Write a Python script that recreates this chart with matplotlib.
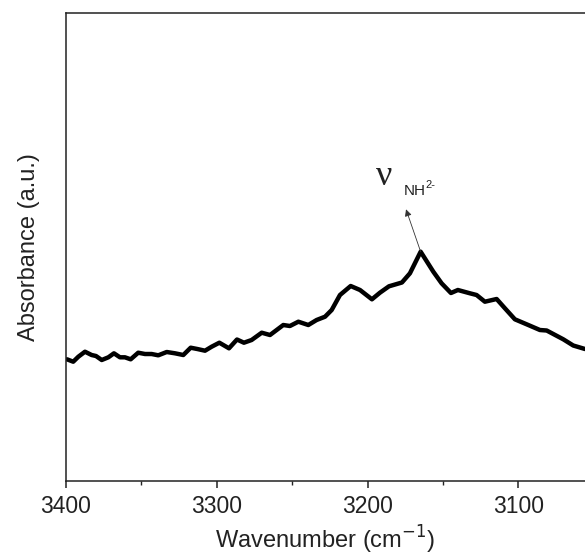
import numpy as np
import matplotlib.pyplot as plt
from matplotlib.ticker import MultipleLocator

plt.rcParams['font.family'] = ['Liberation Sans', 'DejaVu Sans']

# spectrum (wavenumber in cm-1, absorbance in a.u.)
wavenumber = [3399.3, 3395.2, 3391.8, 3387.4, 3383.0, 3380.1, 3376.3, 3371.9, 3368.2, 3364.2,
              3360.9, 3357.1, 3352.1, 3347.6, 3343.2, 3338.8, 3333.2, 3327.7, 3322.2, 3317.3,
              3312.9, 3307.8, 3303.4, 3298.3, 3291.9, 3286.6, 3282.0, 3276.9, 3270.2, 3264.7,
              3255.9, 3251.5, 3245.9, 3239.3, 3233.8, 3228.2, 3223.8, 3218.3, 3211.2, 3205.0,
              3197.1, 3191.8, 3185.8, 3177.2, 3171.9, 3164.8, 3156.4, 3150.9, 3144.7, 3140.1,
              3132.1, 3127.7, 3122.2, 3114.4, 3108.9, 3102.3, 3093.4, 3085.7, 3081.2, 3070.2,
              3063.6, 3055.8]
absorbance = [1.217, 1.193, 1.243, 1.293, 1.260, 1.250, 1.210, 1.237, 1.277, 1.237,
              1.237, 1.217, 1.283, 1.270, 1.270, 1.257, 1.290, 1.277, 1.260, 1.333,
              1.320, 1.303, 1.343, 1.383, 1.327, 1.415, 1.383, 1.410, 1.483, 1.460,
              1.560, 1.550, 1.593, 1.560, 1.610, 1.643, 1.710, 1.860, 1.950, 1.910,
              1.817, 1.883, 1.947, 1.985, 2.077, 2.293, 2.093, 1.977, 1.880, 1.910,
              1.877, 1.860, 1.793, 1.820, 1.727, 1.617, 1.560, 1.510, 1.505, 1.417,
              1.355, 1.320]

peak_x, peak_y = 3164.8, 2.293
xticks = [3400, 3300, 3200, 3100]

fig = plt.figure(figsize=(5.85, 5.55), dpi=100)
ax = fig.add_axes([0.1128, 0.1333, 0.8872, 0.8424])

ax.plot(wavenumber, absorbance, color='black', linewidth=3.2,
        solid_joinstyle='round', solid_capstyle='round')

ax.set_xlim(3400, 3055.8)
ax.set_ylim(0, 4.675)
ax.set_xticks(xticks)
ax.xaxis.set_minor_locator(MultipleLocator(50))
ax.set_yticks([])
ax.spines['right'].set_visible(False)
for s in ['left', 'bottom', 'top']:
    ax.spines[s].set_linewidth(1.1)
    ax.spines[s].set_color('#222222')
ax.tick_params(axis='x', which='major', direction='out', length=5, width=1.1,
               labelsize=16.5, colors='#222222', pad=5)
ax.tick_params(axis='x', which='minor', direction='out', length=3, width=1.0, colors='#222222')

ax.set_xlabel('Wavenumber (cm$^{-1}$)', fontsize=17, color='#222222', labelpad=4)
ax.set_ylabel('Absorbance (a.u.)', fontsize=17, color='#222222', labelpad=19)

# peak annotation
ax.annotate('', xy=(3174.5, 2.717), xytext=(peak_x, peak_y),
            arrowprops=dict(arrowstyle='-|>', color='#333333', lw=0.6,
                            mutation_scale=10, shrinkA=0, shrinkB=0))
ax.text(3189.1, 3.04, 'ν', family=['Liberation Serif', 'DejaVu Serif'], fontsize=26,
        ha='center', va='center', color='#222222')
ax.text(3175.9, 2.86, 'NH', fontsize=11, ha='left', va='baseline', color='#222222')
ax.annotate('2-', xy=(3175.9, 2.86), xytext=(15.5, 5), textcoords='offset points',
            fontsize=8, ha='left', va='baseline', color='#222222')

fig.savefig('out.png', dpi=100)
